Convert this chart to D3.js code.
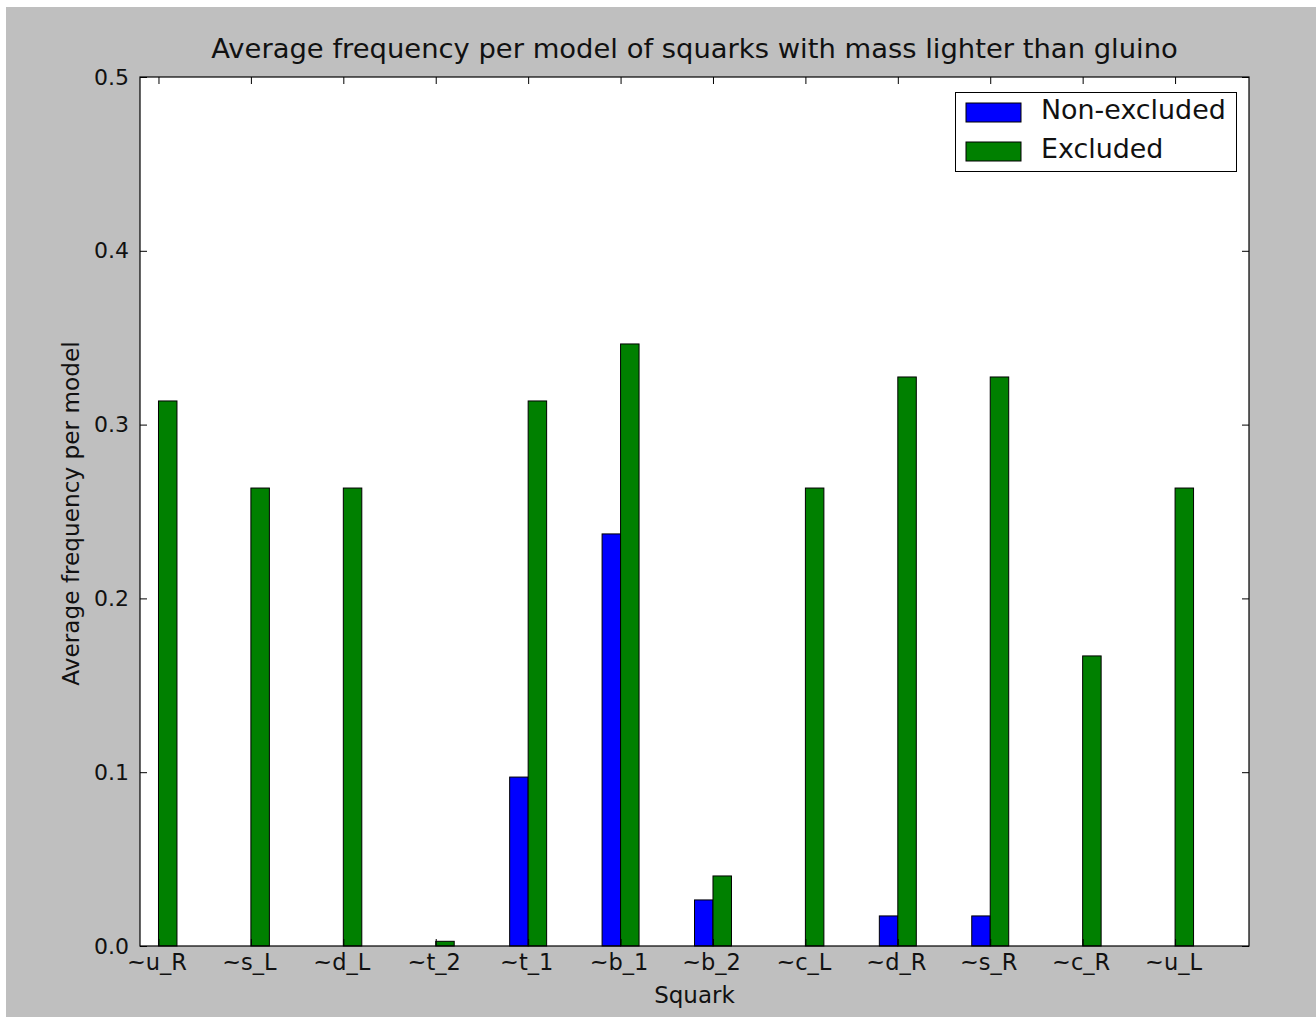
<!DOCTYPE html>
<html>
<head>
<meta charset="utf-8">
<script src="https://cdn.jsdelivr.net/npm/d3@7"></script>
<style>
  html, body { margin: 0; padding: 0; background: #ffffff; }
  svg { display: block; }
  text { font-family: "DejaVu Sans", sans-serif; fill: #111; }
</style>
</head>
<body>
<script>
// Squark categories and average frequencies per model
const squarks = ["~u_R", "~s_L", "~d_L", "~t_2", "~t_1", "~b_1", "~b_2", "~c_L", "~d_R", "~s_R", "~c_R", "~u_L"];
const nonExcluded = [0, 0, 0, 0, 0.0972, 0.2371, 0.0265, 0, 0.0173, 0.0173, 0, 0];
const excluded = [0.3136, 0.2635, 0.2635, 0.0027, 0.3136, 0.3464, 0.0403, 0.2635, 0.3274, 0.3274, 0.1669, 0.2635];
const yTicks = [0, 0.1, 0.2, 0.3, 0.4, 0.5];
const seriesNames = ["Non-excluded", "Excluded"];
const seriesColors = ["#0000ff", "#008000"];

const W = 1316, H = 1017;
const plot = { left: 140, right: 1249, top: 77, bottom: 946 };
const barWidth = 0.2;

const svg = d3.select("body").append("svg").attr("width", W).attr("height", H);

// figure background with thin white margin at top/left
svg.append("rect").attr("x", 0).attr("y", 0).attr("width", W).attr("height", H).attr("fill", "#ffffff");
svg.append("rect").attr("x", 6).attr("y", 7).attr("width", W - 6).attr("height", H - 7).attr("fill", "#bfbfbf");

const x = d3.scaleLinear().domain([0, squarks.length]).range([plot.left, plot.right]);
const y = d3.scaleLinear().domain([0, 0.5]).range([plot.bottom, plot.top]);

// axes background
svg.append("rect")
  .attr("x", plot.left).attr("y", plot.top)
  .attr("width", plot.right - plot.left).attr("height", plot.bottom - plot.top)
  .attr("fill", "#ffffff");

// bars
const bw = x(barWidth) - x(0);
[nonExcluded, excluded].forEach((vals, s) => {
  svg.append("g").selectAll("rect").data(vals).join("rect")
    .attr("x", (d, i) => x(i + s * barWidth))
    .attr("y", d => y(d))
    .attr("width", bw)
    .attr("height", d => y(0) - y(d))
    .attr("fill", seriesColors[s])
    .attr("stroke", "#000")
    .attr("stroke-width", 1);
});

const tickPos = squarks.map((d, i) => i + barWidth);

// left axis
const gl = svg.append("g").attr("transform", `translate(${plot.left},0)`)
  .call(d3.axisLeft(y).tickValues(yTicks).tickFormat(d3.format(".1f")).tickSizeInner(-7).tickSizeOuter(0).tickPadding(11));
gl.selectAll("text").style("font-size", "22px");

// right axis (ticks only)
svg.append("g").attr("transform", `translate(${plot.right},0)`)
  .call(d3.axisRight(y).tickValues(yTicks).tickFormat("").tickSizeInner(-7).tickSizeOuter(0));

// bottom axis
const gb = svg.append("g").attr("transform", `translate(0,${plot.bottom})`)
  .call(d3.axisBottom(x).tickValues(tickPos).tickFormat((d, i) => squarks[i]).tickSizeInner(-7).tickSizeOuter(0).tickPadding(8));
gb.selectAll("text").style("font-size", "22.5px").attr("dx", "-2");

// top axis (ticks only)
svg.append("g").attr("transform", `translate(0,${plot.top})`)
  .call(d3.axisTop(x).tickValues(tickPos).tickFormat("").tickSizeInner(-7).tickSizeOuter(0));

svg.selectAll(".domain").remove();
svg.selectAll(".tick line").attr("stroke", "#000");

// frame
svg.append("rect")
  .attr("x", plot.left).attr("y", plot.top)
  .attr("width", plot.right - plot.left).attr("height", plot.bottom - plot.top)
  .attr("fill", "none").attr("stroke", "#000").attr("stroke-width", 1.2);

// title and axis labels
svg.append("text")
  .attr("x", (plot.left + plot.right) / 2).attr("y", 58)
  .attr("text-anchor", "middle").style("font-size", "27.4px")
  .text("Average frequency per model of squarks with mass lighter than gluino");

svg.append("text")
  .attr("x", (plot.left + plot.right) / 2).attr("y", 1003)
  .attr("text-anchor", "middle").style("font-size", "23px")
  .text("Squark");

svg.append("text")
  .attr("transform", `translate(79,${(plot.top + plot.bottom) / 2 + 2}) rotate(-90)`)
  .attr("text-anchor", "middle").style("font-size", "23.2px")
  .text("Average frequency per model");

// legend
const lg = svg.append("g");
lg.append("rect")
  .attr("x", 955.5).attr("y", 92.5).attr("width", 281).attr("height", 79)
  .attr("fill", "#ffffff").attr("stroke", "#000").attr("stroke-width", 1);
seriesNames.forEach((name, i) => {
  lg.append("rect")
    .attr("x", 966).attr("y", 103 + i * 39).attr("width", 55).attr("height", 19)
    .attr("fill", seriesColors[i]).attr("stroke", "#000").attr("stroke-width", 1);
  lg.append("text")
    .attr("x", 1041).attr("y", 119 + i * 39)
    .style("font-size", "26.9px")
    .text(name);
});
</script>
</body>
</html>
